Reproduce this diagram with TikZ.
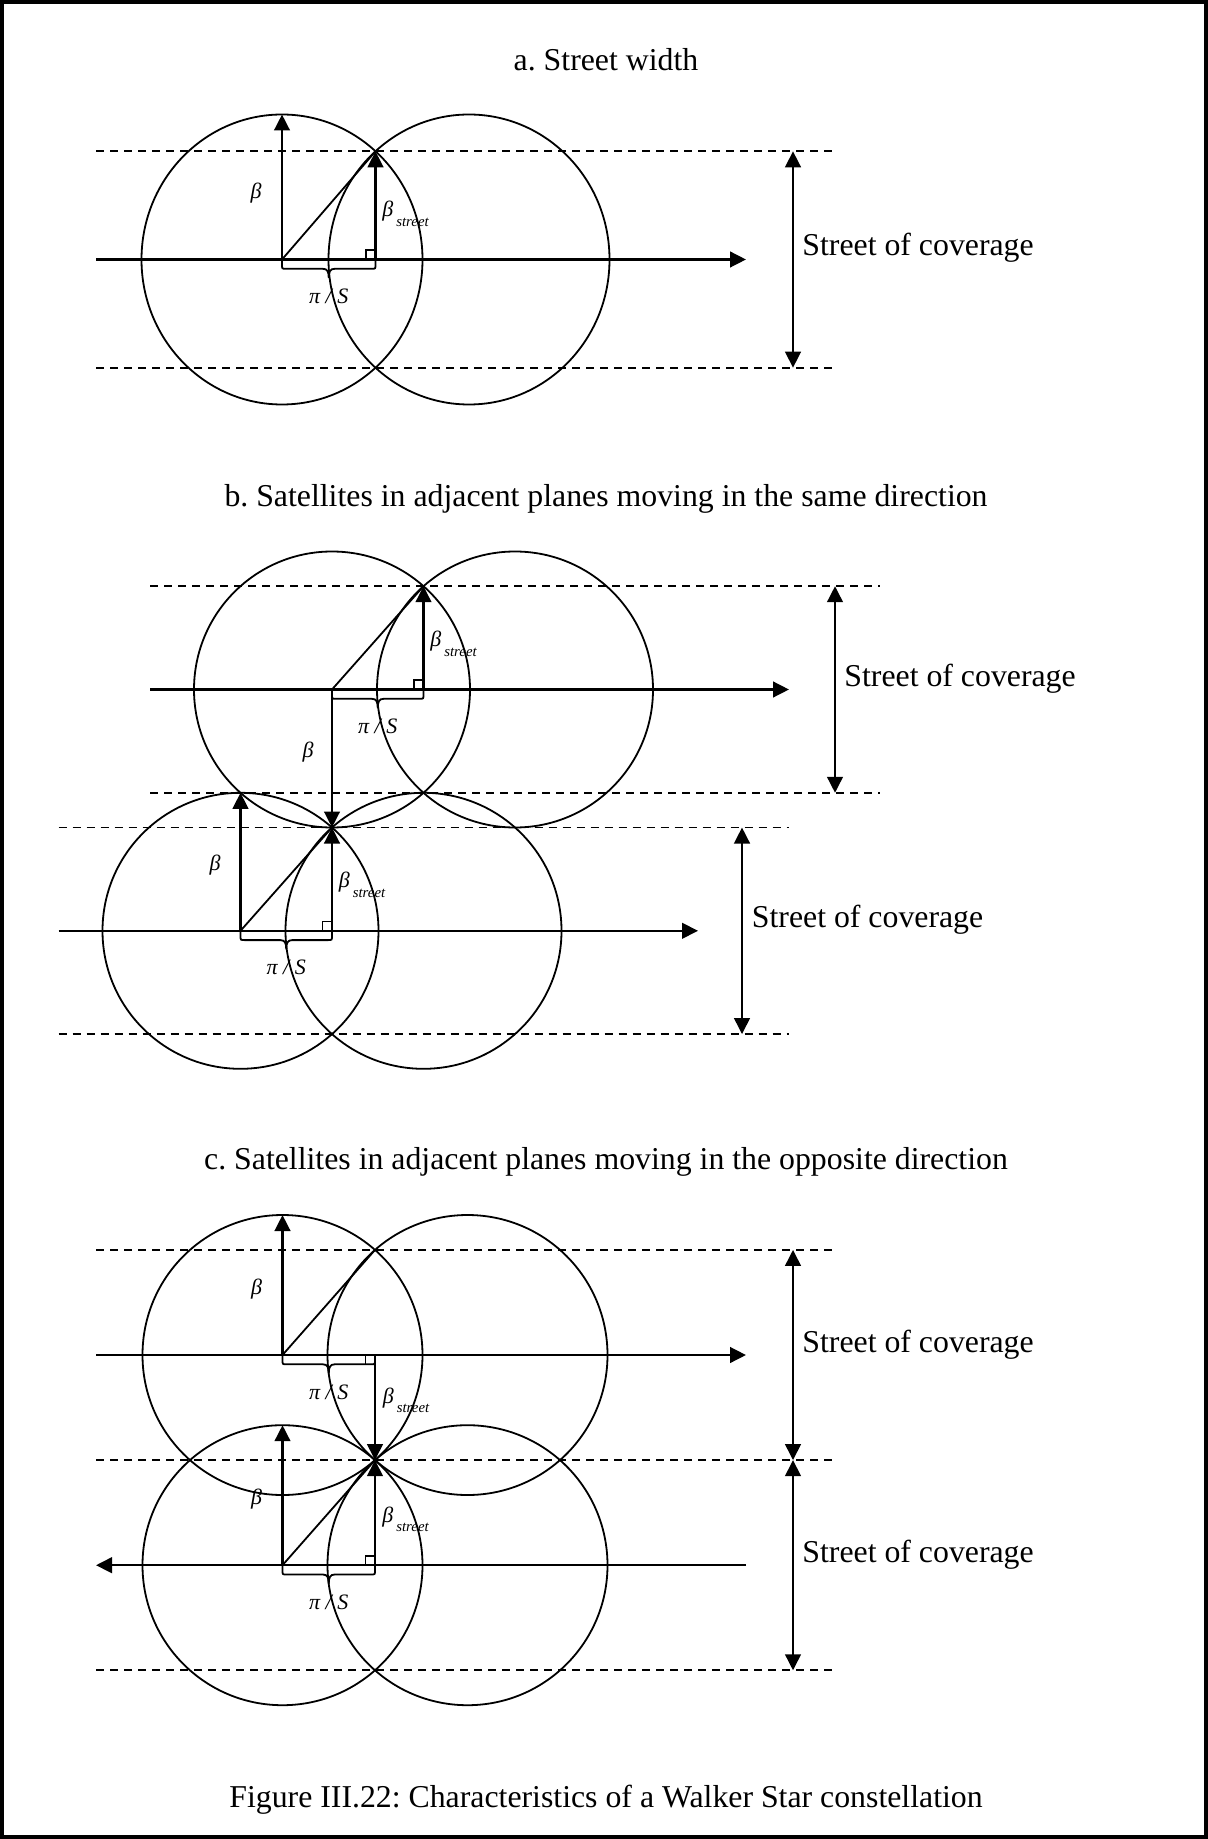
\documentclass[tikz,border=0pt]{standalone}
\usepackage{fontspec}
\setmainfont{Liberation Serif}
\usetikzlibrary{arrows.meta}
\frenchspacing

% curly brace hanging below a horizontal segment: #1 left x, #2 right x, #3 y of the segment
\newcommand\legbrace[3]{%
  \draw[thinl] (#1,#3) -- (#1,{#3+5}) .. controls (#1,{#3+9.3}) .. ({#1+4},{#3+9.3})
    -- ({(#1+#2)/2-6},{#3+9.3})
    .. controls ({(#1+#2)/2-1.5},{#3+9.3}) and ({(#1+#2)/2},{#3+12}) .. ({(#1+#2)/2},{#3+18.5})
    .. controls ({(#1+#2)/2},{#3+12}) and ({(#1+#2)/2+1.5},{#3+9.3}) .. ({(#1+#2)/2+6},{#3+9.3})
    -- ({#2-4},{#3+9.3}) .. controls (#2,{#3+9.3}) .. (#2,{#3+5}) -- (#2,#3);}

\tikzset{
  orbit/.style={line width=0.9pt},
  street/.style={line width=0.9pt, dash pattern=on 4.2pt off 2.8pt},
  thinl/.style={line width=0.9pt},
  corner/.style={line width=0.75pt},
  vec/.style={line width=1.25pt, -{Triangle[length=8pt,width=7.8pt]}},
  span/.style={line width=1.25pt, {Triangle[length=8pt,width=7.8pt]}-{Triangle[length=8pt,width=7.8pt]}},
  big/.style={font=\fontsize{15.9}{19}\selectfont, inner sep=0pt},
  sym/.style={font=\fontsize{11}{13}\selectfont\itshape, inner sep=0pt},
}
\newcommand\bstreet{β\kern1.5pt\raisebox{-4.8pt}{\fontsize{7.4}{9}\selectfont street}}

\begin{document}
\begin{tikzpicture}[x=0.5pt,y=-0.5pt]
\useasboundingbox (0,0) rectangle (1208,1839);
\draw[line width=2pt] (2,2) rectangle (1206,1837);

% ---------------- a. Street width ----------------
\node[big, anchor=base] (ta) at (606,71) {a. Street width};
\coordinate (aC1) at (282,259.5);
\coordinate (aC2) at (469,259.5);
\coordinate (aI) at (375.5,151.3);
\coordinate (aF) at (375.5,259.5);
\coordinate (aT) at (282,114.5);
\draw[orbit] (aC1) ellipse [x radius=140.5, y radius=145];
\draw[orbit] (aC2) ellipse [x radius=140.5, y radius=145];
\draw[street] (96,151.3) -- (832,151.3);
\draw[street] (96,367.7) -- (832,367.7);
\coordinate (aL) at (96,259.5);
\coordinate (aR) at (746,259.5);
\draw[vec] (aL) -- (aR);
\draw[vec] (aC1) -- (aT);
\draw[thinl] (aC1) -- (aI);
\draw[vec] (aF) -- (aI);
\draw[corner] (366.2,259.5) |- (375.5,250.2);
\legbrace{282}{375.5}{259.5}
\node[sym] (aB) at (256,193.5) {β};
\node[sym, anchor=base west] (aBs) at (382,216.5) {\bstreet};
\node[sym] (aP) at (328.75,296.5) {π / S};
\coordinate (aS1) at (793,151.3);
\coordinate (aS2) at (793,367.7);
\draw[span] (aS1) -- (aS2);
\node[big, anchor=base west] (aLab) at (802,256) {Street of coverage};

% ---------------- b. same direction ----------------
\node[big, anchor=base] (tb) at (606,506.5) {b. Satellites in adjacent planes moving in the same direction};
% upper plane
\coordinate (bC1) at (332,689.5);
\coordinate (bC2) at (515,689.5);
\coordinate (bI) at (423.5,586.2);
\coordinate (bF) at (423.5,689.5);
\draw[orbit] (bC1) circle [radius=138];
\draw[orbit] (bC2) circle [radius=138];
\draw[street] (150,586.2) -- (880,586.2);
\draw[street] (150,792.8) -- (880,792.8);
\coordinate (bL) at (150,689.5);
\coordinate (bR) at (789,689.5);
\draw[vec] (bL) -- (bR);
\draw[thinl] (bC1) -- (bI);
\draw[vec] (bF) -- (bI);
\draw[corner] (414.2,689.5) |- (423.5,680.2);
\legbrace{332}{423.5}{689.5}
% lower plane
\coordinate (bD1) at (240.5,930.8);
\coordinate (bD2) at (423.5,930.8);
\coordinate (bJ) at (332,827.5);
\coordinate (bG) at (332,930.8);
\coordinate (bT) at (240.5,792.8);
\draw[orbit] (bD1) circle [radius=138];
\draw[orbit] (bD2) circle [radius=138];
\draw[street] (58.6,827.5) -- (789,827.5);
\draw[street] (58.6,1034.1) -- (789,1034.1);
\coordinate (bL2) at (58.6,930.8);
\coordinate (bR2) at (698,930.8);
\draw[vec] (bL2) -- (bR2);
\draw[vec] (bC1) -- (bJ);
\draw[vec] (bD1) -- (bT);
\draw[thinl] (bD1) -- (bJ);
\draw[vec] (bG) -- (bJ);
\draw[corner] (322.7,930.8) |- (332,921.5);
\legbrace{240.5}{332}{930.8}
\node[sym] (bB1) at (308,752.5) {β};
\node[sym, anchor=base west] (bBs1) at (430,646.5) {\bstreet};
\node[sym] (bP1) at (377.75,726.5) {π / S};
\node[sym] (bB2) at (215,864.8) {β};
\node[sym, anchor=base west] (bBs2) at (338.5,887.8) {\bstreet};
\node[sym] (bP2) at (286.25,967.8) {π / S};
\coordinate (bS1) at (835,586.2);
\coordinate (bS2) at (835,792.8);
\draw[span] (bS1) -- (bS2);
\node[big, anchor=base west] (bLab1) at (844,686) {Street of coverage};
\coordinate (bS3) at (742,827.5);
\coordinate (bS4) at (742,1034.1);
\draw[span] (bS3) -- (bS4);
\node[big, anchor=base west] (bLab2) at (751.5,927.8) {Street of coverage};

% ---------------- c. opposite direction ----------------
\node[big, anchor=base] (tc) at (606,1169) {c. Satellites in adjacent planes moving in the opposite direction};
% upper plane
\coordinate (cC1) at (282.5,1355);
\coordinate (cC2) at (467.5,1355);
\coordinate (cI) at (375,1249.9);
\coordinate (cF) at (375,1355);
\coordinate (cM) at (375,1460.1);
\coordinate (cT) at (282.5,1215);
\draw[orbit] (cC1) circle [radius=140];
\draw[orbit] (cC2) circle [radius=140];
% lower plane
\coordinate (cD1) at (282.5,1565.2);
\coordinate (cD2) at (467.5,1565.2);
\coordinate (cG) at (375,1565.2);
\coordinate (cU) at (282.5,1425.2);
\draw[orbit] (cD1) circle [radius=140];
\draw[orbit] (cD2) circle [radius=140];
\draw[street] (96,1249.9) -- (832,1249.9);
\draw[street] (96,1460.1) -- (832,1460.1);
\draw[street] (96,1670.3) -- (832,1670.3);
\coordinate (cL) at (96,1355);
\coordinate (cR) at (746,1355);
\draw[vec] (cL) -- (cR);
\coordinate (cL2) at (96,1565.2);
\coordinate (cR2) at (746,1565.2);
\draw[vec] (cR2) -- (cL2);
\draw[vec] (cC1) -- (cT);
\draw[thinl] (cC1) -- (cI);
\draw[vec] (cF) -- (cM);
\draw[corner] (365.7,1355) |- (375,1364.3);
\legbrace{282.5}{375}{1355}
\draw[vec] (cD1) -- (cU);
\draw[thinl] (cD1) -- (cM);
\draw[vec] (cG) -- (cM);
\draw[corner] (365.7,1565.2) |- (375,1555.9);
\legbrace{282.5}{375}{1565.2}
\node[sym] (cB1) at (256.5,1289) {β};
\node[sym, anchor=base west] (cBs1) at (382.5,1403) {\bstreet};
\node[sym] (cP1) at (328.75,1392) {π / S};
\node[sym] (cB2) at (256.5,1499) {β};
\node[sym, anchor=base west] (cBs2) at (382,1522) {\bstreet};
\node[sym] (cP2) at (328.75,1602) {π / S};
\coordinate (cS1) at (793,1249.9);
\coordinate (cS2) at (793,1460.1);
\coordinate (cS3) at (793,1670.3);
\draw[span] (cS1) -- (cS2);
\draw[span] (cS2) -- (cS3);
\node[big, anchor=base west] (cLab1) at (802,1352) {Street of coverage};
\node[big, anchor=base west] (cLab2) at (802,1562) {Street of coverage};

% ---------------- caption ----------------
\node[big, anchor=base] (cap) at (606,1807) {Figure III.22: Characteristics of a Walker Star constellation};
\end{tikzpicture}
\end{document}
